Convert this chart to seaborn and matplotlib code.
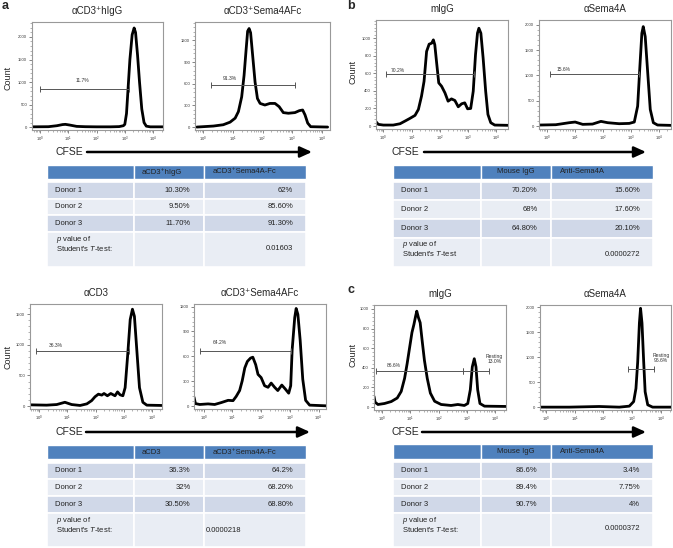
"""
CFSE dilution histograms (FlowJo style) with donor summary tables.
"""
import matplotlib
matplotlib.use("Agg")
import matplotlib.pyplot as plt
import numpy as np
import seaborn as sns
from matplotlib.patches import Rectangle
from matplotlib.ticker import AutoMinorLocator, FixedLocator

W, H = 673, 548

# ---- histogram traces: x = log10(CFSE) decade, y = cell count ----
A1_X = [-0.28, 0.3, 0.6, 0.8, 0.9, 1.05, 1.3, 1.6, 2.0, 2.5, 2.8, 2.95, 3.0, 3.06, 3.12, 3.18,
        3.26, 3.33, 3.38, 3.45, 3.52, 3.6, 3.68, 3.76, 3.9, 4.35]
A1_Y = [5, 8, 30, 55, 60, 45, 15, 8, 5, 5, 10, 30, 60, 300, 900, 1500,
        2050, 2200, 2100, 1600, 1000, 400, 100, 20, 5, 5]
A1_GATE = [0.0, 3.16, 845]

A2_X = [-0.21, 0.35, 0.68, 0.91, 1.08, 1.19, 1.30, 1.38, 1.45, 1.50, 1.55, 1.60, 1.67, 1.75,
        1.83, 1.92, 2.08, 2.25, 2.42, 2.56, 2.70, 2.87, 3.09, 3.24, 3.35, 3.43, 3.52, 3.62, 4.19]
A2_Y = [0, 14, 32, 68, 123, 214, 418, 714, 1077, 1327, 1364, 1305, 986, 623,
        395, 327, 305, 327, 327, 282, 200, 191, 200, 227, 236, 168, 55, 5, 0]
A2_GATE = [0.27, 3.09, 586]

B1_X = [-0.26, -0.18, 0.0, 0.35, 0.59, 0.77, 0.94, 1.12, 1.24, 1.35, 1.44, 1.53, 1.62, 1.71,
        1.77, 1.82, 1.88, 1.96, 2.06, 2.18, 2.29, 2.41, 2.53, 2.65, 2.77, 2.88, 2.98, 3.09,
        3.18, 3.26, 3.33, 3.38, 3.45, 3.53, 3.62, 3.70, 3.80, 3.94, 4.41]
B1_Y = [49, 19, 11, 11, 26, 57, 87, 121, 189, 340, 509, 849, 932, 943,
        981, 925, 736, 491, 453, 377, 283, 309, 291, 219, 253, 264, 196, 200,
        396, 811, 1057, 1113, 1057, 774, 396, 132, 38, 11, 8]
B1_GATE = [0.09, 3.20, 593]

B2_X = [-0.24, 0.33, 0.81, 1.02, 1.29, 1.64, 1.94, 2.18, 2.59, 2.95, 3.13, 3.25, 3.33,
        3.40, 3.45, 3.52, 3.61, 3.70, 3.81, 3.96, 4.44]
B2_Y = [20, 26, 66, 79, 33, 39, 92, 66, 46, 52, 79, 393, 1180,
        1836, 1967, 1770, 1049, 328, 66, 20, 13]
B2_GATE = [0.13, 3.29, 1036]

A3_X = [-0.31, 0.26, 0.62, 0.91, 1.15, 1.45, 1.69, 1.86, 1.98, 2.10, 2.22, 2.30, 2.42, 2.54,
        2.69, 2.78, 2.87, 2.97, 3.05, 3.14, 3.23, 3.31, 3.38, 3.47, 3.56, 3.68, 3.82, 4.36]
A3_Y = [21, 16, 26, 63, 26, 11, 37, 90, 153, 195, 180, 206, 169, 206,
        169, 232, 185, 169, 301, 829, 1410, 1579, 1463, 882, 301, 63, 16, 11]
A3_GATE = [-0.13, 3.17, 892]

A4_X = [-0.34, -0.29, -0.14, 0.15, 0.38, 0.61, 0.85, 1.02, 1.13, 1.25, 1.34, 1.43, 1.52, 1.63,
        1.71, 1.81, 1.89, 2.00, 2.12, 2.24, 2.35, 2.47, 2.58, 2.72, 2.84, 2.96, 3.03, 3.08,
        3.17, 3.22, 3.28, 3.36, 3.45, 3.55, 3.69, 4.26]
A4_Y = [109, 31, 20, 27, 20, 43, 70, 66, 117, 188, 305, 461, 539, 579,
        590, 500, 383, 344, 246, 227, 278, 227, 188, 254, 207, 156, 246, 676,
        1067, 1177, 1106, 794, 324, 70, 12, 4]
A4_GATE = [-0.12, 3.05, 665]

C1_X = [-0.28, -0.24, -0.14, 0.09, 0.33, 0.54, 0.68, 0.80, 0.89, 0.97, 1.06, 1.13, 1.19, 1.23,
        1.29, 1.35, 1.42, 1.50, 1.60, 1.71, 1.86, 2.09, 2.44, 2.68, 2.91, 3.03, 3.12, 3.19,
        3.26, 3.32, 3.38, 3.46, 3.62, 4.38]
C1_Y = [110, 50, 27, 37, 57, 93, 160, 293, 443, 593, 760, 843, 927, 977,
        910, 860, 677, 477, 293, 143, 60, 27, 17, 27, 17, 37, 177, 410,
        493, 410, 177, 37, 10, 7]
C1_GATE = [-0.20, 2.85, 370]
C1_REST = [2.85, 3.77, 370]

C2_X = [-0.21, 0.81, 1.85, 2.55, 2.90, 3.05, 3.13, 3.19, 3.25, 3.29, 3.34, 3.40, 3.45, 3.54,
        3.71, 4.35]
C2_Y = [0, 0, 13, 0, 20, 111, 374, 898, 1685, 1980, 1685, 898, 308, 46, 0, 0]
C2_REST = [2.84, 3.77, 754]

# ---- summary tables ----
DONORS = ["Donor 1", "Donor 2", "Donor 3"]
TA_HEAD = ["aCD3⁺hIgG", "aCD3⁺Sema4A-Fc"]
TA_C1 = ["10.30%", "9.50%", "11.70%"]
TA_C2 = ["62%", "85.60%", "91.30%"]
TA_P = "0.01603"

TB_HEAD = ["Mouse IgG", "Anti-Sema4A"]
TB_C1 = ["70.20%", "68%", "64.80%"]
TB_C2 = ["15.60%", "17.60%", "20.10%"]
TB_P = "0.0000272"

TA2_HEAD = ["aCD3", "aCD3⁺Sema4A-Fc"]
TA2_C1 = ["36.3%", "32%", "30.50%"]
TA2_C2 = ["64.2%", "68.20%", "68.80%"]
TA2_P = "0.0000218"

TC_HEAD = ["Mouse IgG", "Anti-Sema4A"]
TC_C1 = ["86.6%", "89.4%", "90.7%"]
TC_C2 = ["3.4%", "7.75%", "4%"]
TC_P = "0.0000372"

sns.set_theme(style="white")
plt.rcParams["font.family"] = ["Liberation Sans", "DejaVu Sans"]
plt.rcParams["mathtext.fontset"] = "custom"
plt.rcParams["mathtext.rm"] = "Liberation Sans"
plt.rcParams["mathtext.it"] = "Liberation Sans:italic"

fig = plt.figure(figsize=(W / 100, H / 100), dpi=100)
fig.patch.set_facecolor("white")

ov = fig.add_axes([0, 0, 1, 1])
ov.set_xlim(0, W)
ov.set_ylim(H, 0)
ov.axis("off")
ov.patch.set_visible(False)


def add_box(l, t, r, b):
    return fig.add_axes([l / W, 1 - b / H, (r - l) / W, (b - t) / H])


def hist_panel(box, xs, ys, xlim, ytop, yticks, title, gates, count_xy=None):
    ax = add_box(*box)
    sns.lineplot(x=xs, y=ys, ax=ax, color="black", linewidth=2.0,
                 estimator=None, legend=False)
    ax.set_xlim(*xlim)
    ax.set_ylim(-0.028 * ytop, ytop)
    ax.set_xticks(range(5))
    ax.set_xticklabels([f"$10^{{{k}}}$" for k in range(5)])
    minors = [k + np.log10(m) for k in range(-1, 5) for m in range(2, 10)
              if xlim[0] < k + np.log10(m) < xlim[1]]
    ax.xaxis.set_minor_locator(FixedLocator(minors))
    ax.set_yticks(yticks)
    ax.yaxis.set_minor_locator(AutoMinorLocator(5))
    ax.tick_params(which="major", direction="out", length=2, width=0.5,
                   labelsize=3.0, pad=1.5, colors="#555", labelcolor="#333",
                   bottom=True, left=True)
    ax.tick_params(which="minor", direction="out", length=1.2, width=0.4,
                   colors="#777", bottom=True, left=True)
    for s in ax.spines.values():
        s.set_color("#999")
        s.set_linewidth(0.8)
    ax.set_xlabel("")
    ax.set_ylabel("")
    ax.grid(False)
    for g in gates:
        x0, x1, gy, lab, lx, ly = g
        ax.plot([x0, x1], [gy, gy], color="#555", lw=0.7, marker="|",
                ms=4, mew=0.7)
        ax.text(lx, ly, lab, fontsize=3.6, color="#333", ha="center",
                va="center", linespacing=1.0)
    l, t, r, b = box
    ov.text((l + r) / 2, t - 11, title, fontsize=7, ha="center", va="center")
    if count_xy:
        ov.text(count_xy[0], count_xy[1], "Count", fontsize=6.5, rotation=90,
                ha="center", va="center")
    return ax


def cfse_arrow(tx, x0, x1, y):
    ov.text(tx, y, "CFSE", fontsize=7.5, ha="left", va="center")
    ov.annotate("", xy=(x1, y), xytext=(x0, y),
                arrowprops=dict(arrowstyle="-|>,head_length=0.55,head_width=0.25",
                                lw=1.8, color="black", mutation_scale=13,
                                shrinkA=0, shrinkB=0))


def draw_table(xe, head_tb, row_edges, head, c1, c2, pval, centre_head,
               p_left, colon):
    dark, light, blue = "#d0d8e8", "#e9edf4", "#4f81bd"
    for i in range(3):
        ov.add_patch(Rectangle((xe[i], head_tb[0]), xe[i + 1] - xe[i],
                               head_tb[1] - head_tb[0], facecolor=blue,
                               edgecolor="white", lw=1.0))
    fills = [dark, light, dark, light]
    for j in range(4):
        for i in range(3):
            ov.add_patch(Rectangle((xe[i], row_edges[j]), xe[i + 1] - xe[i],
                                   row_edges[j + 1] - row_edges[j],
                                   facecolor=fills[j], edgecolor="white", lw=1.2))
    hy = (head_tb[0] + head_tb[1]) / 2
    fs = 5.5
    if centre_head:
        ov.text((xe[1] + xe[2]) / 2, hy, head[0], fontsize=fs, ha="center",
                va="center", color="#222")
    else:
        ov.text(xe[1] + 8, hy, head[0], fontsize=fs, ha="left", va="center",
                color="#222")
    ov.text(xe[2] + 9, hy, head[1], fontsize=fs, ha="left", va="center",
            color="#222")
    for j in range(3):
        cy = (row_edges[j] + row_edges[j + 1]) / 2
        ov.text(xe[0] + 8, cy, DONORS[j], fontsize=fs, ha="left", va="center",
                color="#222")
        ov.text(xe[2] - 13, cy, c1[j], fontsize=fs, ha="right", va="center",
                color="#222")
        ov.text(xe[3] - 13, cy, c2[j], fontsize=fs, ha="right", va="center",
                color="#222")
    pt = row_edges[3]
    ov.text(xe[0] + 9, pt + 7.5, "$p$ value of", fontsize=fs, ha="left",
            va="center", color="#222")
    ov.text(xe[0] + 9, pt + 16.5, "Student's $T$-test" + (":" if colon else ""),
            fontsize=fs, ha="left", va="center", color="#222")
    if p_left:
        ov.text(xe[2] + 2, pt + 17.5, pval, fontsize=fs, ha="left",
                va="center", color="#222")
    else:
        ov.text(xe[3] - 13, pt + 16.5, pval, fontsize=fs, ha="right",
                va="center", color="#222")


# ---- panel a (top) ----
hist_panel((32, 22, 163, 130), A1_X, A1_Y, (-0.28, 4.35), 2333,
           [0, 500, 1000, 1500, 2000], "αCD3⁺hIgG",
           [A1_GATE + ["11.7%", 1.5, 1030]], count_xy=(8, 78))
hist_panel((195, 22, 330, 130), A2_X, A2_Y, (-0.27, 4.27), 1454,
           [0, 300, 600, 900, 1200], "αCD3⁺Sema4AFc",
           [A2_GATE + ["91.3%", 0.9, 670]])
# ---- panel b ----
hist_panel((376, 20, 508, 129), B1_X, B1_Y, (-0.26, 4.41), 1207,
           [0, 200, 400, 600, 800, 1000], "mIgG",
           [B1_GATE + ["70.2%", 0.5, 635]], count_xy=(353, 72))
hist_panel((539, 20, 671, 129), B2_X, B2_Y, (-0.27, 4.44), 2098,
           [0, 500, 1000, 1500, 2000], "αSema4A",
           [B2_GATE + ["15.6%", 0.6, 1110]])
# ---- panel a (bottom) ----
hist_panel((30, 304, 162, 409), A3_X, A3_Y, (-0.33, 4.36), 1664,
           [0, 500, 1000, 1500], "αCD3",
           [A3_GATE + ["36.3%", 0.6, 990]], count_xy=(8, 357))
hist_panel((194, 304, 326, 409), A4_X, A4_Y, (-0.34, 4.26), 1231,
           [0, 300, 600, 900, 1200], "αCD3⁺Sema4AFc",
           [A4_GATE + ["64.2%", 0.56, 765]])
# ---- panel c ----
hist_panel((374, 305, 506, 410), C1_X, C1_Y, (-0.28, 4.38), 1040,
           [0, 200, 400, 600, 800, 1000], "mIgG",
           [C1_GATE + ["86.6%", 0.4, 428],
            C1_REST + ["Resting\n13.0%", 3.97, 490]], count_xy=(353, 355))
hist_panel((540, 305, 671, 410), C2_X, C2_Y, (-0.21, 4.35), 2046,
           [0, 500, 1000, 1500, 2000], "αSema4A",
           [C2_REST + ["Resting\n96.6%", 4.0, 980]])

# ---- CFSE arrows ----
cfse_arrow(55, 87, 312, 152)
cfse_arrow(391, 424, 646, 152)
cfse_arrow(55, 86, 310, 432)
cfse_arrow(391, 422, 646, 432)

# ---- tables ----
draw_table([47, 133.5, 203.5, 306], (165, 178.5), [181.5, 198.5, 215, 232, 267],
           TA_HEAD, TA_C1, TA_C2, TA_P, False, False, True)
draw_table([393, 480.5, 550.5, 653], (165, 178.5), [181.5, 200, 218.5, 237.5, 267],
           TB_HEAD, TB_C1, TB_C2, TB_P, True, False, False)
draw_table([47, 133.5, 203.5, 306], (445, 459), [462.5, 479, 495.5, 512.5, 547],
           TA2_HEAD, TA2_C1, TA2_C2, TA2_P, False, True, True)
draw_table([393, 481, 550.5, 653], (444, 458.5), [462, 479, 495.5, 512.5, 547],
           TC_HEAD, TC_C1, TC_C2, TC_P, True, False, True)

# ---- panel letters ----
for lab, x, y in [("a", 2, 6), ("b", 347, 6), ("c", 347, 290)]:
    ov.text(x, y, lab, fontsize=9, fontweight="bold", ha="left", va="center")

fig.savefig("out.png", dpi=100, facecolor="white")
plt.close(fig)
